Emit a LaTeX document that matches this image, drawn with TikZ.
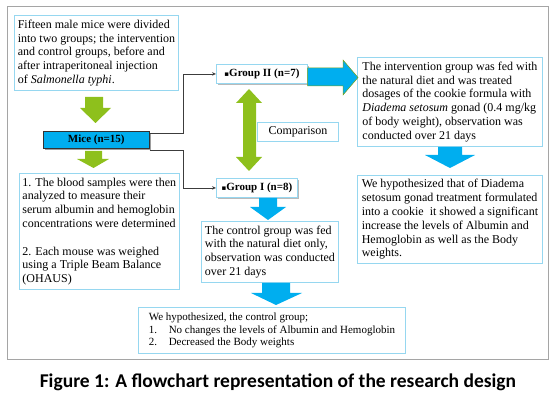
\documentclass[tikz,border=0pt]{standalone}
\usepackage{fontspec}
\setmainfont{Liberation Serif}
\newfontfamily\capfont{Carlito}
\newfontfamily\dejavu{DejaVu Sans}
\usetikzlibrary{shadows,arrows.meta}
\definecolor{boxblue}{RGB}{150,215,240}
\definecolor{fillblue}{RGB}{0,174,239}
\definecolor{agreen}{RGB}{142,192,28}
\definecolor{framegray}{RGB}{165,165,165}
\definecolor{linegray}{RGB}{60,60,60}
\newcommand{\sqb}{{\dejavu\fontsize{7}{7}\selectfont ▪}}
\tikzset{
  txtbox/.style={draw=boxblue, line width=0.9pt, fill=white, anchor=north west,
    inner xsep=3pt, inner ysep=2pt, align=left, font=\fontsize{12}{13.8}\selectfont},
  grpbox/.style={draw=boxblue, line width=0.9pt, fill=white, anchor=north west,
    inner sep=0pt, font=\bfseries\fontsize{11}{13}\selectfont,
    drop shadow={shadow xshift=1.5pt, shadow yshift=-1.5pt, fill=black!45, opacity=0.6}},
  micebox/.style={draw=black!80, line width=0.6pt, fill=fillblue, anchor=north west,
    inner sep=0pt, font=\bfseries\fontsize{11}{13}\selectfont,
    drop shadow={shadow xshift=1.5pt, shadow yshift=-1.5pt, fill=black!55, opacity=0.7}},
  conn/.style={draw=linegray, line width=0.7pt, -{Stealth[length=4pt,width=3.5pt]}},
  garrow/.style={fill=agreen},
  barrow/.style={fill=fillblue},
}
\begin{document}
\begin{tikzpicture}[x=1pt,y=-1pt]
\useasboundingbox (0,0) rectangle (555,401);
\draw[framegray, line width=1pt] (7,7) rectangle (548,359);

% green arrows
\fill[garrow] (85,97) -- (103,97) -- (103,108) -- (111,108) -- (95.5,123) -- (80,108) -- (85,108) -- cycle;
\fill[garrow] (85,151) -- (102,151) -- (102,159) -- (109,159) -- (93.5,168) -- (77,159) -- (85,159) -- cycle;
% double green arrow
\fill[garrow] (249,89) -- (262,103) -- (256,103) -- (256,157) -- (262,157) -- (249,171)
  -- (236,157) -- (243,157) -- (243,103) -- (236,103) -- cycle;

% boxes
\node[txtbox, minimum width=164, minimum height=75] (intro) at (14,15)
 {Fifteen male mice were divided\\into two groups; the intervention\\and control groups, before and\\after intraperitoneal injection\\of \textit{Salmonella typhi}.};

\node[micebox, minimum width=106, minimum height=17] (mice) at (43,131) {Mice (n=15)};

\node[txtbox, minimum width=157, minimum height=116] (blood) at (19,173)
 {1. The blood samples were then\\analyzed to measure their\\serum albumin and hemoglobin\\concentrations were determined\\[13.8pt]2. Each mouse was weighed\\using a Triple Beam Balance\\(OHAUS)};

\node[grpbox, minimum width=91, minimum height=19] (g2) at (216,64) {\sqb Group II (n=7)};
\node[grpbox, minimum width=81, minimum height=19] (g1) at (216,178) {\sqb Group I (n=8)};

\node[draw=boxblue, line width=0.9pt, fill=white, anchor=north west, inner sep=0pt,
  minimum width=81, minimum height=19, font=\fontsize{12}{13}\selectfont] (comp) at (257,122) {Comparison};

\node[txtbox, minimum width=185, minimum height=89] (interv) at (357,57)
 {The intervention group was fed with\\the natural diet and was treated\\dosages of the cookie formula with\\\textit{Diadema setosum} gonad (0.4 mg/kg\\of body weight), observation was\\conducted over 21 days};

\node[txtbox, minimum width=185, minimum height=88] (hypr) at (357,175)
 {We hypothesized that of Diadema\\setosum gonad treatment formulated\\into a cookie\ \ it showed a significant\\increase the levels of Albumin and\\Hemoglobin as well as the Body\\weights.};

\node[txtbox, minimum width=137, minimum height=61] (ctrl) at (201,221)
 {The control group was fed\\with the natural diet only,\\observation was conducted\\over 21 days};

\node[txtbox, minimum width=267, minimum height=46, font=\fontsize{11}{12.6}\selectfont] (hypc) at (138,307)
 {We hypothesized, the control group;\\\makebox[20pt][l]{1.}No changes the levels of Albumin and Hemoglobin\\\makebox[20pt][l]{2.}Decreased the Body weights};

% blue arrows
\filldraw[barrow, draw=agreen!85!black, line width=0.5pt] (307.5,68) -- (343,68) -- (343,60) -- (358,77.5) -- (343,95) -- (343,86) -- (307.5,86) -- cycle;
\fill[barrow] (438,147) -- (462,147) -- (462,155) -- (475,155) -- (450,168) -- (425,155) -- (438,155) -- cycle;
\fill[barrow] (259,198) -- (277,198) -- (277,207) -- (286,207) -- (268,220) -- (250,207) -- (259,207) -- cycle;
\fill[barrow] (262,283) -- (290,283) -- (290,293) -- (302,293) -- (276,305) -- (251,293) -- (262,293) -- cycle;

% connectors
\draw[conn] ([yshift=6.5pt]mice.east) -- ++(34,0) |- (g2.west);
\draw[conn] ([yshift=-2pt]mice.south east) -- ++(34,0) |- (g1.west);

% caption
\node[font=\capfont\bfseries\fontsize{19.5}{22}\selectfont] (cap) at (278,382)
 {Figure 1: A flowchart representation of the research design};
\end{tikzpicture}
\end{document}
